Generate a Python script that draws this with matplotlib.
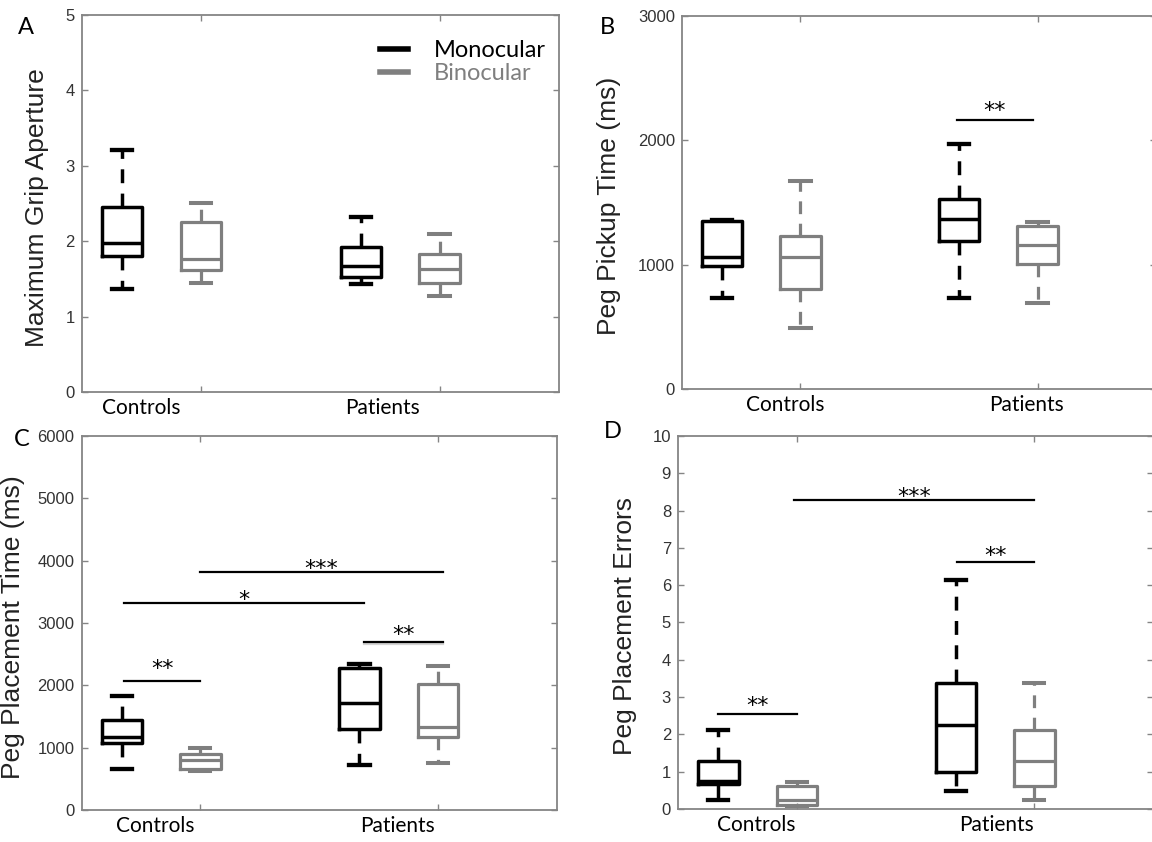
import matplotlib.pyplot as plt
import matplotlib.patheffects as pe
from matplotlib.lines import Line2D

# box stats per group: [whislo, q1, median, q3, whishi] for Controls, Patients
groups = ['Controls', 'Patients']
mono_pos = [0.67, 1.67]
bino_pos = [1.0, 2.0]

mga_mono = [[1.36, 1.81, 1.97, 2.45, 3.21], [1.43, 1.53, 1.67, 1.92, 2.32]]
mga_bino = [[1.44, 1.62, 1.76, 2.26, 2.51], [1.28, 1.44, 1.63, 1.83, 2.09]]

pickup_mono = [[729, 991, 1063, 1349, 1357], [735, 1192, 1371, 1528, 1972]]
pickup_bino = [[489, 804, 1063, 1234, 1670], [689, 1005, 1162, 1309, 1344]]

place_mono = [[657, 1069, 1175, 1448, 1833], [721, 1298, 1710, 2276, 2340]]
place_bino = [[620, 657, 801, 898, 988], [748, 1175, 1336, 2020, 2303]]

err_mono = [[0.24, 0.67, 0.76, 1.28, 2.12], [0.49, 1.0, 2.25, 3.37, 6.13]]
err_bino = [[0.09, 0.11, 0.24, 0.61, 0.73], [0.24, 0.61, 1.29, 2.12, 3.37]]

# significance bars: (x1, x2, y_line, y_text, label)
sig_b = [(1.66, 1.98, 2167, 2265, '**')]
sig_c = [(0.68, 1.0, 2073, 2324, '**'), (0.68, 1.69, 3318, 3435, '*'),
         (1.0, 2.02, 3820, 3935, '***'), (1.69, 2.02, 2703, 2864, '**')]
sig_d = [(0.67, 1.0, 2.54, 2.87, '**'), (0.99, 2.0, 8.28, 8.48, '***'),
         (1.675, 2.0, 6.61, 6.9, '**')]

MONO = 'black'
BINO = '#7f7f7f'
SPINE = '#858585'
TXT = 'Lato'


def to_stats(rows):
    return [dict(whislo=r[0], q1=r[1], med=r[2], q3=r[3], whishi=r[4], fliers=[]) for r in rows]


def draw_boxes(ax, rows, pos, color, lw):
    ax.bxp(to_stats(rows), positions=pos, widths=0.17, showfliers=False,
           boxprops=dict(color=color, lw=lw),
           medianprops=dict(color=color, lw=lw),
           whiskerprops=dict(color=color, lw=lw, ls=(0, (4, 3))),
           capprops=dict(color=color, lw=lw + 0.6))


def setup(ax, ymax, ystep, ylabel, lab_x, cat_x):
    ax.set_xlim(0.5, 2.5)
    ax.set_ylim(0, ymax)
    ax.set_xticks([1, 2])
    ax.set_xticklabels(['', ''])
    ax.set_yticks([v * ystep for v in range(int(round(ymax / ystep)) + 1)])
    ax.tick_params(direction='in', top=True, right=True, length=4, width=1,
                   color=SPINE, labelsize=12, labelcolor='#333333', pad=5)
    for lab in ax.get_yticklabels():
        lab.set_family('Liberation Sans')
    for s in ax.spines.values():
        s.set_color(SPINE)
        s.set_linewidth(1.3)
    ax.set_ylabel(ylabel, fontsize=19, family='Liberation Sans', color='#222222')
    ax.yaxis.set_label_coords(lab_x, 0.49)
    for name, x in zip(groups, cat_x):
        ax.text(x, -0.042, name, transform=ax.get_xaxis_transform(), ha='center',
                va='center', fontsize=15, family=TXT, color='black')


def add_sig(ax, sigs, shadow=()):
    for i, (x1, x2, yl, yt, lab) in enumerate(sigs):
        effects = None
        if i in shadow:
            effects = [pe.SimpleLineShadow(offset=(0, -2), alpha=0.25, shadow_color='#555555'), pe.Normal()]
        ax.plot([x1, x2], [yl, yl], color='black', lw=1.6, path_effects=effects)
        ax.annotate(lab, ((x1 + x2) / 2, yt), xytext=(0, -7.2), textcoords='offset points',
                    ha='center', va='baseline', fontsize=16, family='DejaVu Sans', color='black')


fig = plt.figure(figsize=(11.52, 8.42), dpi=100)
axA = fig.add_axes([0.0708, 0.5344, 0.4144, 0.4478])
axB = fig.add_axes([0.592, 0.538, 0.4115, 0.443])
axC = fig.add_axes([0.0708, 0.038, 0.4124, 0.4442])
axD = fig.add_axes([0.5885, 0.0392, 0.4125, 0.443])

for ax, mono, bino in [(axA, mga_mono, mga_bino), (axB, pickup_mono, pickup_bino),
                       (axC, place_mono, place_bino), (axD, err_mono, err_bino)]:
    draw_boxes(ax, bino, bino_pos, BINO, 2.3)
    draw_boxes(ax, mono, mono_pos, MONO, 2.5)

setup(axA, 5, 1, 'Maximum Grip Aperture', -0.069, [0.75, 1.76])
setup(axB, 3000, 1000, 'Peg Pickup Time (ms)', -0.128, [0.935, 1.955])
setup(axC, 6000, 1000, 'Peg Placement Time (ms)', -0.12, [0.81, 1.83])
setup(axD, 10, 1, 'Peg Placement Errors', -0.087, [0.83, 1.84])

add_sig(axB, sig_b)
add_sig(axC, sig_c, shadow=(3,))
add_sig(axD, sig_d)

handles = [Line2D([], [], color=MONO, lw=4), Line2D([], [], color=BINO, lw=4)]
leg = axA.legend(handles, ['Monocular', 'Binocular'], loc='upper left',
                 bbox_to_anchor=(0.60, 0.965), frameon=False, handlelength=1.2,
                 handletextpad=1.1, labelspacing=0.1, borderpad=0,
                 prop=dict(family=TXT, size=17))
leg.get_texts()[1].set_color(BINO)

for lab, x, y in [('A', 26, 27), ('B', 607, 27), ('C', 22, 440), ('D', 613, 431)]:
    fig.text(x / 1152, 1 - y / 842, lab, ha='center', va='center', fontsize=17,
             family=TXT, color='black')

fig.savefig('out.png', dpi=100)
